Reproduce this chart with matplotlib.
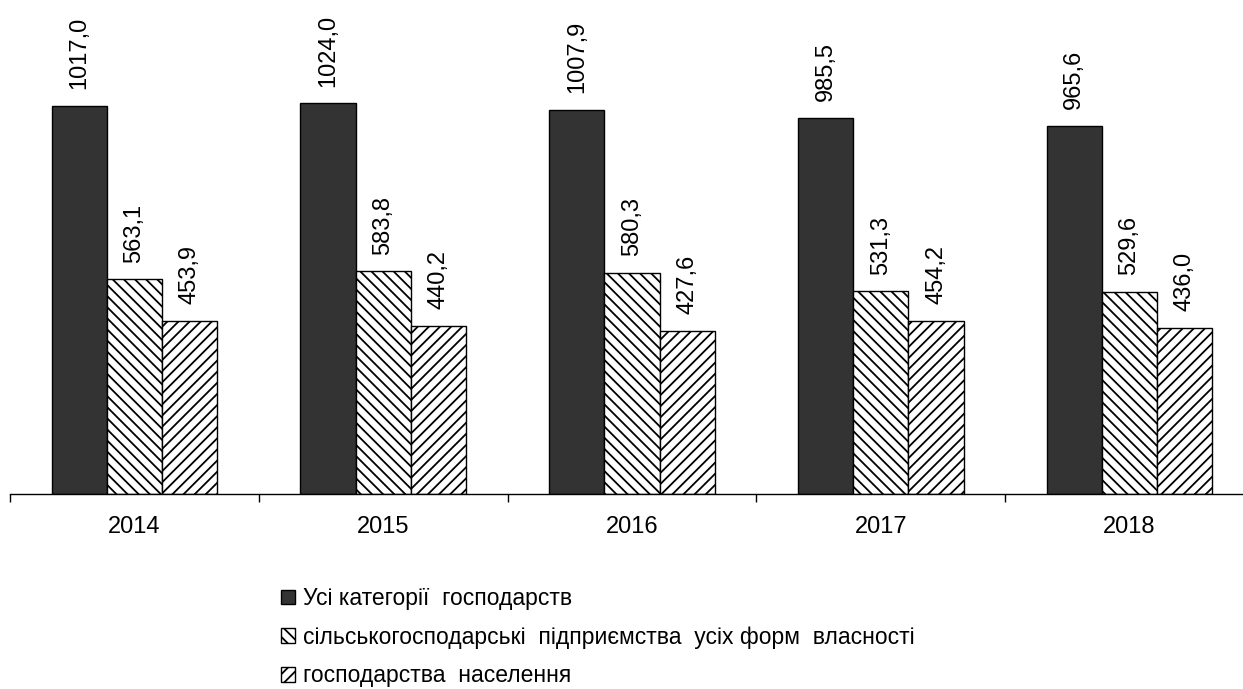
import numpy as np
import matplotlib
matplotlib.use("Agg")
from matplotlib import pyplot as plt

years = ["2014", "2015", "2016", "2017", "2018"]
all_farms = [1017.0, 1024.0, 1007.9, 985.5, 965.6]
agri_enterprises = [563.1, 583.8, 580.3, 531.3, 529.6]
households = [453.9, 440.2, 427.6, 454.2, 436.0]
series_names = ["Усі категорії  господарств",
                "сільськогосподарські  підприємства  усіх форм  власності",
                "господарства  населення"]

plt.rcParams['font.family'] = ['Liberation Sans', 'DejaVu Sans']
plt.rcParams['hatch.linewidth'] = 1.3

fig = plt.figure(figsize=(12.43, 6.89), dpi=100)
ax = fig.add_axes([10/1243, 195/689, 1244/1243, 494/689])

x = np.arange(len(years))
w = 0.222
bars = []
bars.append(ax.bar(x - w, all_farms, w, color='#333333', edgecolor='black', linewidth=1.0, label=series_names[0]))
bars.append(ax.bar(x, agri_enterprises, w, color='white', edgecolor='black', linewidth=1.0, hatch='\\\\\\', label=series_names[1]))
bars.append(ax.bar(x + w, households, w, color='white', edgecolor='black', linewidth=1.0, hatch='///', label=series_names[2]))

# value labels above bars, rotated
for bc in bars:
    for rect in bc:
        h = rect.get_height()
        ax.annotate(f"{h:.1f}".replace('.', ','), (rect.get_x() + rect.get_width()/2, h),
                    xytext=(0, 12), textcoords='offset points', rotation=90,
                    ha='center', va='bottom', fontsize=17)

ax.set_xlim(-0.5, 4.5)
ax.set_ylim(0, 1295)
ax.set_xticks(x)
ax.set_xticklabels(years, fontsize=17)
ax.set_xticks(np.arange(-0.5, 5.0, 1.0), minor=True)
ax.tick_params(axis='x', which='major', length=0, pad=16)
ax.tick_params(axis='x', which='minor', length=6, width=1.0, direction='out')
ax.set_yticks([])
for s in ['top', 'right', 'left']:
    ax.spines[s].set_visible(False)
ax.spines['bottom'].set_linewidth(1.0)

fig.legend(loc='upper left', bbox_to_anchor=(281/1243, 1 - 587/689), frameon=False,
           fontsize=16.5, handlelength=0.62, handleheight=0.62, handletextpad=0.35,
           labelspacing=0.68, borderpad=0, borderaxespad=0)

fig.savefig("out.png", dpi=100)
